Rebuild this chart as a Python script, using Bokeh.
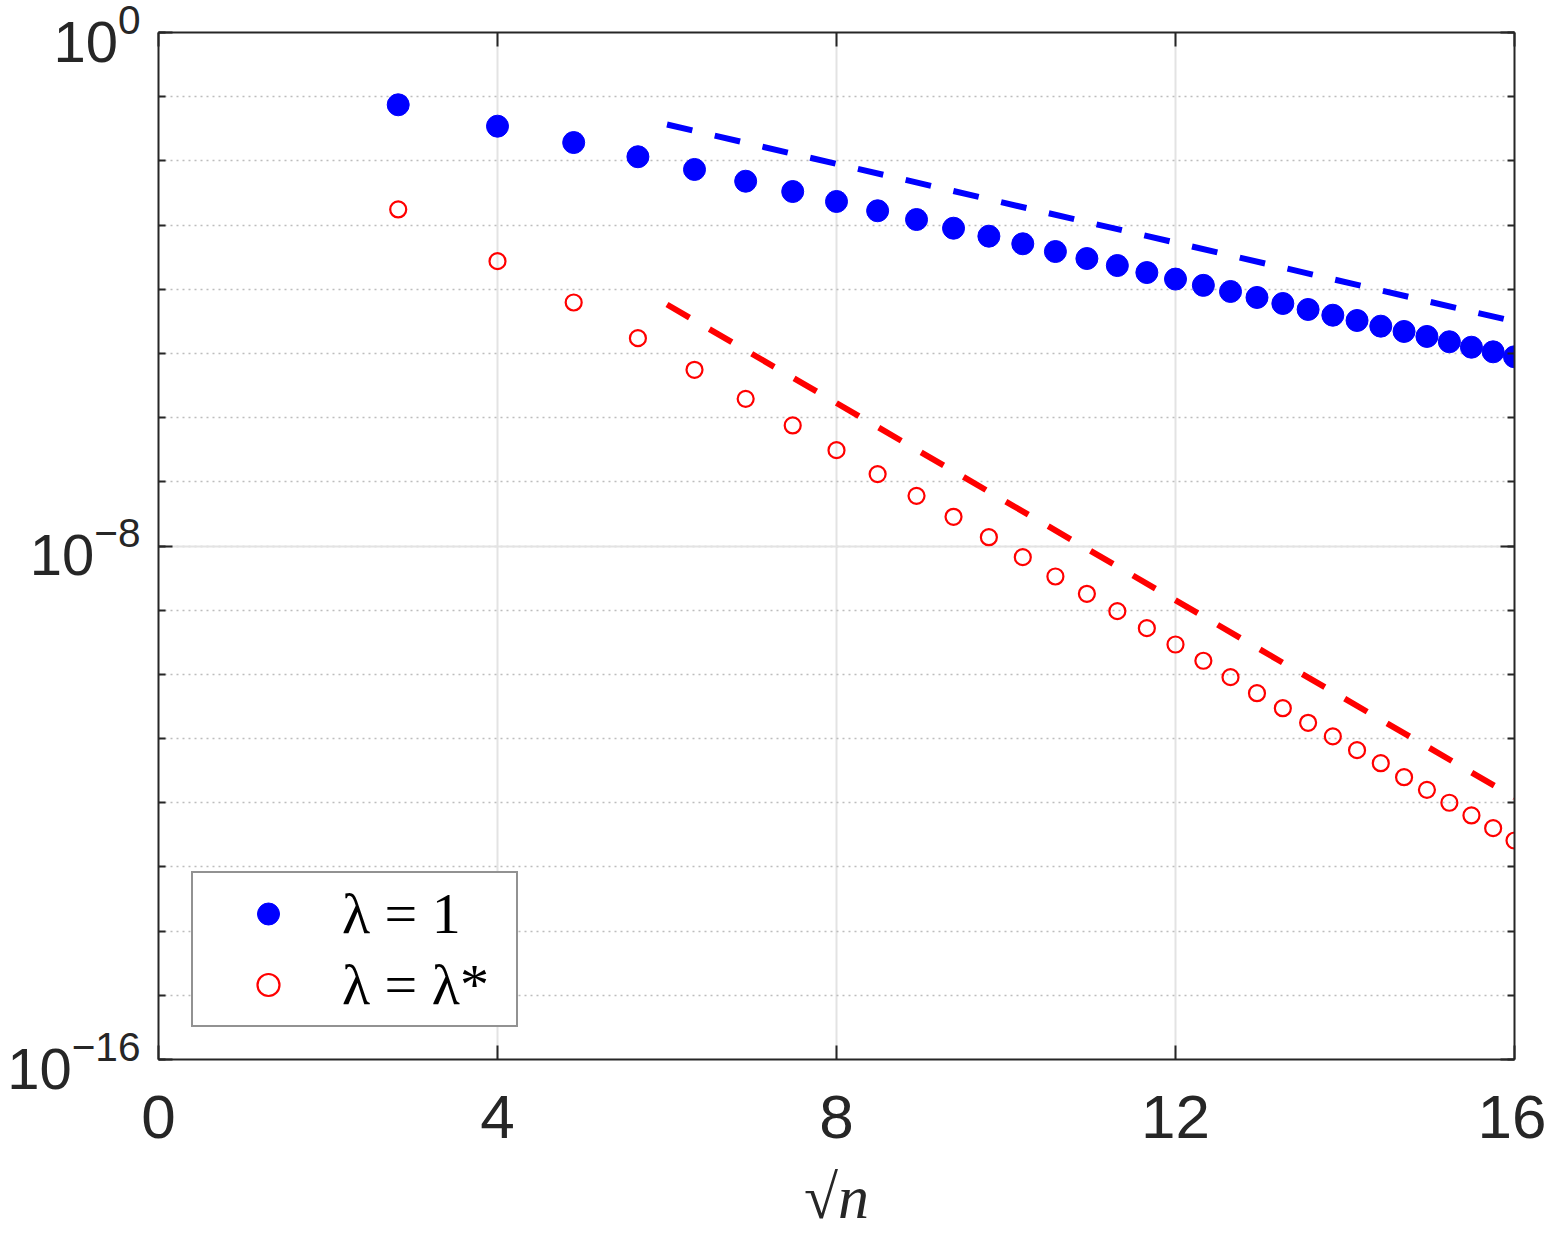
import numpy as np
from bokeh.plotting import figure
from bokeh.models import FixedTicker, LinearAxis, LogAxis, Legend, LegendItem
from bokeh.embed import file_html
from bokeh.resources import INLINE

# ---- data ----
n_values = [8, 16, 24, 32, 40, 48, 56, 64, 72, 80, 88, 96, 104, 112, 120, 128,
            136, 144, 152, 160, 168, 176, 184, 192, 200, 208, 216, 224, 232, 240, 248, 256]
sqrt_n = np.sqrt(n_values)

err_lambda_one = [7.48e-2, 3.47e-2, 1.93e-2, 1.16e-2, 7.35e-3, 4.82e-3, 3.33e-3, 2.33e-3,
                  1.67e-3, 1.22e-3, 8.93e-4, 6.71e-4, 5.11e-4, 3.87e-4, 3.01e-4, 2.34e-4,
                  1.82e-4, 1.44e-4, 1.15e-4, 9.23e-5, 7.45e-5, 6.00e-5, 4.84e-5, 3.94e-5,
                  3.26e-5, 2.66e-5, 2.20e-5, 1.84e-5, 1.52e-5, 1.25e-5, 1.06e-5, 8.87e-6]

err_lambda_star = [1.75e-3, 2.74e-4, 6.22e-5, 1.73e-5, 5.56e-6, 1.96e-6, 7.55e-7, 3.11e-7,
                   1.32e-7, 6.05e-8, 2.85e-8, 1.37e-8, 6.70e-9, 3.35e-9, 1.80e-9, 9.66e-10,
                   5.25e-10, 2.92e-10, 1.63e-10, 9.04e-11, 5.09e-11, 2.97e-11, 1.76e-11, 1.08e-11,
                   6.59e-12, 4.13e-12, 2.50e-12, 1.59e-12, 1.00e-12, 6.34e-13, 4.02e-13, 2.58e-13]

ref_sqrt_n = [6, 16]
ref_lambda_one = [3.69e-2, 3.15e-5]
ref_lambda_star = [5.79e-5, 1.21e-12]

x_ticks = [0, 4, 8, 12, 16]
y_major_ticks = [1e-16, 1e-8, 1e0]
y_minor_ticks = [1e-16, 1e-15, 1e-14, 1e-13, 1e-12, 1e-11, 1e-10, 1e-9, 1e-8,
                 1e-7, 1e-6, 1e-5, 1e-4, 1e-3, 1e-2, 1e-1, 1e0]

legend_labels = ["λ = 1", "λ = λ*"]
x_axis_label = "√n"

# ---- figure ----
p = figure(width=1546, height=1236, x_range=(0, 16), y_range=(1e-16, 1),
           y_axis_type="log", output_backend="svg", toolbar_location=None,
           min_border_left=158, min_border_right=32, min_border_top=32,
           min_border_bottom=177, background_fill_color="white",
           border_fill_color="white")
p.outline_line_color = None

AX = "#262626"

def style_axis(ax, labels=True, minor=False, standoff=22, size="62px"):
    ax.axis_line_color = AX
    ax.axis_line_width = 2
    ax.major_tick_in = 14
    ax.major_tick_out = 0
    ax.major_tick_line_color = AX
    ax.major_tick_line_width = 2
    if minor:
        ax.minor_tick_in = 7
        ax.minor_tick_out = 0
        ax.minor_tick_line_color = AX
        ax.minor_tick_line_width = 2
    else:
        ax.minor_tick_line_color = None
    if labels:
        ax.major_label_text_font = "Liberation Sans"
        ax.major_label_text_font_size = size
        ax.major_label_text_color = AX
        ax.major_label_standoff = standoff
    else:
        ax.major_label_text_font_size = "10px"
        ax.major_label_text_color = None
        ax.major_label_standoff = 0

# left / bottom axes
yax = p.yaxis[0]
yax.ticker = FixedTicker(ticks=y_major_ticks, minor_ticks=y_minor_ticks)
style_axis(yax, labels=True, minor=True, standoff=18, size="58px")

xax = p.xaxis[0]
xax.ticker = FixedTicker(ticks=x_ticks)
style_axis(xax, labels=True, minor=False, standoff=36, size="62px")
xax.axis_label = x_axis_label
xax.axis_label_text_font = "Liberation Serif"
xax.axis_label_text_font_style = "italic"
xax.axis_label_text_font_size = "62px"
xax.axis_label_text_color = AX
xax.axis_label_standoff = 22

# top / right axes (box)
top = LinearAxis(ticker=FixedTicker(ticks=x_ticks))
style_axis(top, labels=False)
p.add_layout(top, "above")
right = LogAxis(ticker=FixedTicker(ticks=y_major_ticks, minor_ticks=y_minor_ticks))
style_axis(right, labels=False, minor=True)
p.add_layout(right, "right")

# grids
p.xgrid.grid_line_color = "#e3e3e3"
p.xgrid.grid_line_width = 2
p.ygrid.grid_line_color = "#e3e3e3"
p.ygrid.grid_line_width = 2
p.ygrid.minor_grid_line_color = "#bdbdbd"
p.ygrid.minor_grid_line_width = 1.5
p.ygrid.minor_grid_line_dash = "2 4"

# data
p.line(ref_sqrt_n, ref_lambda_one, line_color="#0000ff", line_width=6, line_dash="26 23")
p.line(ref_sqrt_n, ref_lambda_star, line_color="#ff0000", line_width=6, line_dash="26 23")
r1 = p.scatter(sqrt_n, err_lambda_one, marker="circle", size=22,
               fill_color="#0000ff", line_color="#0000ff")
r2 = p.scatter(sqrt_n, err_lambda_star, marker="circle", size=16,
               fill_color=None, line_color="#ff0000", line_width=2.2)

legend = Legend(items=[LegendItem(label=legend_labels[0], renderers=[r1]),
                       LegendItem(label=legend_labels[1], renderers=[r2])],
                location=(33, 32), padding=7, margin=0,
                glyph_width=136, glyph_height=55, label_standoff=6,
                label_width=167, label_height=60, spacing=4,
                border_line_color=AX, border_line_width=2,
                label_text_font="Liberation Serif", label_text_font_size="58px",
                label_text_color="black", background_fill_color="white",
                background_fill_alpha=1.0)
p.add_layout(legend)

open("out.html", "w").write(file_html(p, INLINE))
